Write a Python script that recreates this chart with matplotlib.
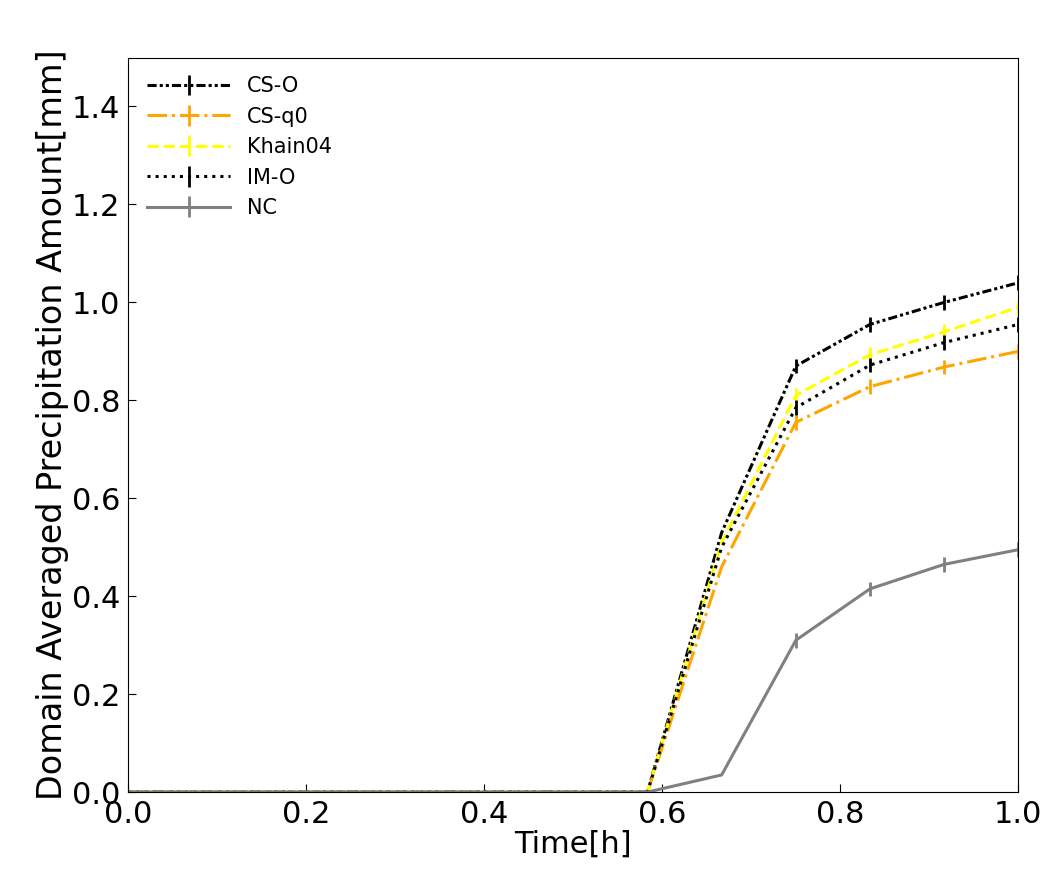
import matplotlib
matplotlib.use("Agg")
import matplotlib.pyplot as plt
import numpy as np

t = [i/12 for i in range(13)]
z = [0.0]*8
cso = z + [0.53, 0.87, 0.955, 1.0, 1.04]
csq0 = z + [0.46, 0.755, 0.828, 0.868, 0.90]
khain = z + [0.51, 0.81, 0.893, 0.94, 0.99]
imo = z + [0.50, 0.785, 0.872, 0.918, 0.955]
nc = z + [0.035, 0.31, 0.415, 0.465, 0.495]
err = [0.0]*8 + [0.0, 0.015, 0.015, 0.015, 0.015]

series = [("CS-O", cso, "black", (0, (3, 1, 1, 1, 1, 1))),
          ("CS-q0", csq0, "orange", "-."),
          ("Khain04", khain, "yellow", "--"),
          ("IM-O", imo, "black", ":"),
          ("NC", nc, "grey", "-")]

fig = plt.figure(figsize=(10.52, 8.85), dpi=100)
ax = fig.add_axes([0.122, 0.105, 0.846, 0.83])
for name, y, c, ls in series:
    ax.errorbar(t, y, yerr=err, color=c, ls=ls, lw=2.2, elinewidth=2, label=name)
ax.set_xlim(0, 1)
ax.set_ylim(0, 1.5)
ax.set_yticks(np.arange(0, 1.41, 0.2))
ax.tick_params(direction="in", labelsize=22, length=6, pad=6)
ax.set_xlabel("Time[h]", fontsize=22, labelpad=0)
ax.set_ylabel("Domain Averaged Precipitation Amount[mm]", fontsize=24, labelpad=2)
ax.legend(loc="upper left", frameon=False, fontsize=15, handlelength=4)
fig.savefig("out.png", dpi=100)
